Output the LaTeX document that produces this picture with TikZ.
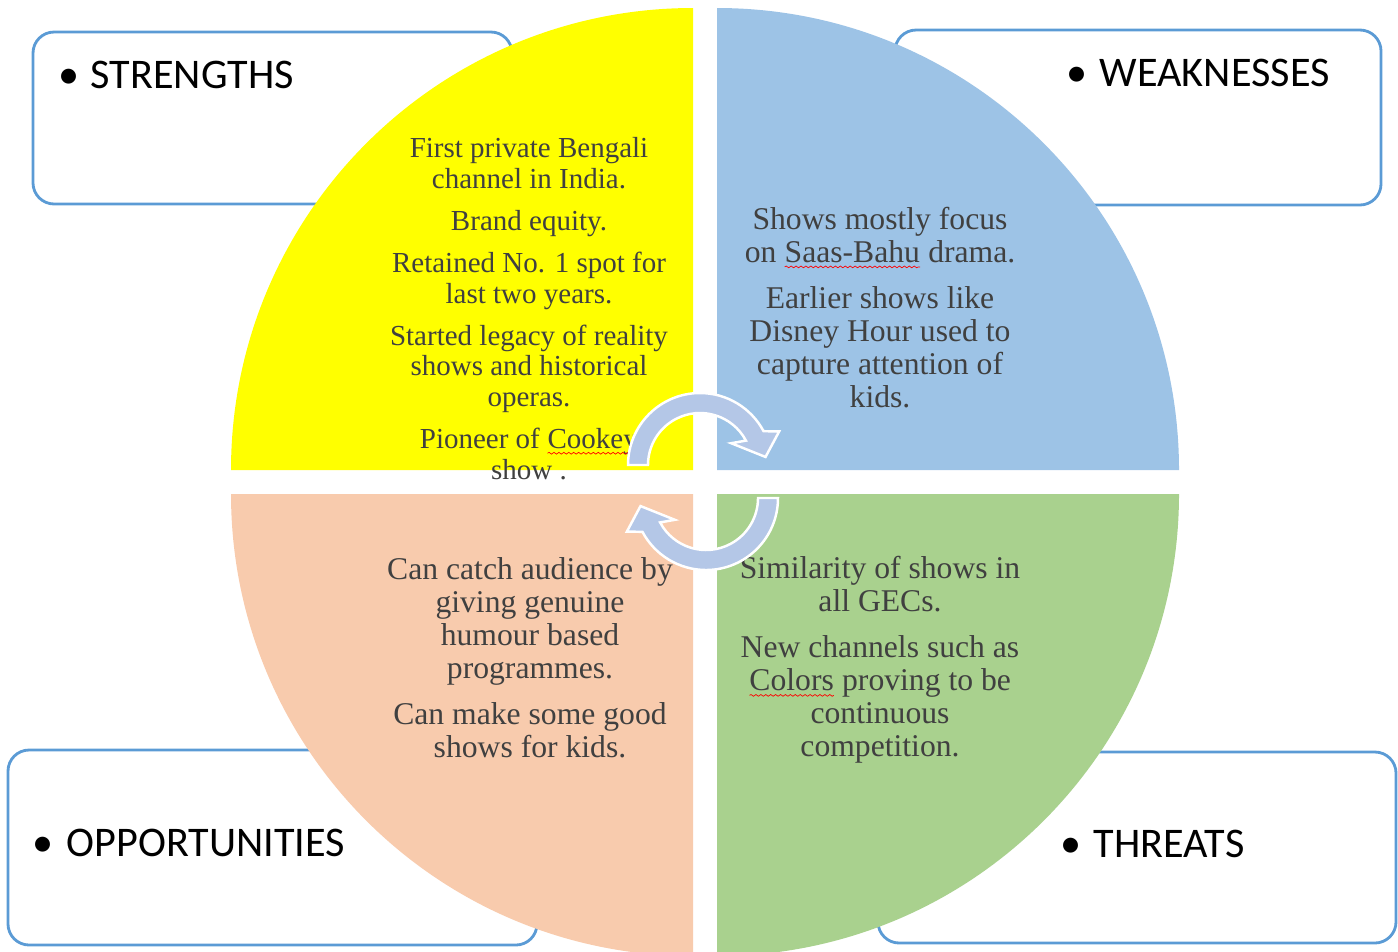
\documentclass[tikz,border=0pt]{standalone}
\usepackage{fontspec}
\setmainfont{Liberation Serif}
\newfontfamily\labelfont{Carlito}
\usepackage{tikz}
\usetikzlibrary{decorations.pathmorphing}
\definecolor{quadyellow}{HTML}{FFFF00}
\definecolor{quadblue}{HTML}{9DC3E6}
\definecolor{quadpeach}{HTML}{F8CBAD}
\definecolor{quadgreen}{HTML}{A9D18E}
\definecolor{cycleblue}{HTML}{B4C7E7}
\definecolor{frameblue}{HTML}{5B9BD5}
\definecolor{bodytext}{HTML}{404040}

% red spell-check squiggle under a word
\newcommand{\spellmark}[1]{\tikz[baseline=(sm.base)]{\node[inner sep=0pt,outer sep=0pt] (sm) {#1};
  \draw[red,line width=0.2pt,decorate,decoration={snake,amplitude=0.25pt,segment length=1.4pt}]
    ([yshift=-1.3pt]sm.base west) -- ([yshift=-1.3pt]sm.base east);}}

\begin{document}
\begin{tikzpicture}[x=0.01cm,y=-0.01cm,
  swotbox/.style={draw=frameblue,line width=0.8pt,fill=white,rounded corners=6pt},
  heading/.style={font=\labelfont\fontsize{12pt}{14pt}\selectfont,inner sep=0pt,anchor=base west},
  quadtext/.style={text=bodytext,align=center,inner sep=0pt,font=\fontsize{9pt}{9.4pt}\selectfont},
  cyclearrow/.style={fill=cycleblue,draw=white,line width=0.7pt}
]
  \clip (0,0) rectangle (1398,951);

  \draw[swotbox] (33,32) rectangle (512,204);
  \draw[swotbox] (895,30) rectangle (1381,205);
  \draw[swotbox] (8,750) rectangle (537,945);
  \draw[swotbox] (878,752) rectangle (1396,943);

  \node[heading] (lblS) at (58,88) {\makebox[0.32cm][l]{\textbullet}STRENGTHS};
  \node[heading] (lblW) at (1066,86) {\makebox[0.33cm][l]{\textbullet}WEAKNESSES};
  \node[heading] (lblO) at (32,856) {\makebox[0.34cm][l]{\textbullet}OPPORTUNITIES};
  \node[heading] (lblT) at (1060,857) {\makebox[0.33cm][l]{\textbullet}THREATS};

  \fill[quadyellow] (693,470) -- (231,470) arc[start angle=180,end angle=270,radius=462] -- cycle;
  \fill[quadblue] (717,470) -- (717,8) arc[start angle=270,end angle=360,radius=462] -- cycle;
  \fill[quadpeach] (693,494) -- (231,494) arc[start angle=180,end angle=90,radius=462] -- cycle;
  \fill[quadgreen] (717,494) -- (1179,494) arc[start angle=0,end angle=90,radius=462] -- cycle;

  \node[quadtext,font=\fontsize{8.25pt}{8.7pt}\selectfont] (txtS) at (529,308.5)
    {First private Bengali\\channel in India.\\[3.3pt]Brand equity.\\[3.3pt]Retained No. 1 spot for\\last two years.\\[3.3pt]Started legacy of reality\\shows and historical\\operas.\\[3.3pt]Pioneer of \spellmark{Cookey}\\show .};
  \node[quadtext] (txtW) at (880,307.5)
    {Shows mostly focus\\on \spellmark{Saas-Bahu} drama.\\[3.7pt]Earlier shows like\\Disney Hour used to\\capture attention of\\kids.};
  \node[quadtext] (txtO) at (530,657.5)
    {Can catch audience by\\giving genuine\\humour based\\programmes.\\[3.7pt]Can make some good\\shows for kids.};
  \node[quadtext] (txtT) at (880,660)
    {Similarity of shows in\\all GECs.\\[3.7pt]New channels such as\\\spellmark{Colors} proving to be\\continuous\\competition.};

  \coordinate (hubTop) at (700,465);
  \coordinate (hubBottom) at (706,498);
  \path[cyclearrow] ([shift={(180:72)}]hubTop) arc[start angle=180,end angle=332,radius=72]
    -- ([shift={(337:86)}]hubTop) -- ([shift={(353:66)}]hubTop) -- ([shift={(325:38)}]hubTop)
    -- ([shift={(332:52)}]hubTop) arc[start angle=332,end angle=180,radius=52] -- cycle;
  \path[cyclearrow] ([shift={(0:72)}]hubBottom) arc[start angle=0,end angle=152,radius=72]
    -- ([shift={(157:86)}]hubBottom) -- ([shift={(173:66)}]hubBottom) -- ([shift={(145:38)}]hubBottom)
    -- ([shift={(152:52)}]hubBottom) arc[start angle=152,end angle=0,radius=52] -- cycle;
\end{tikzpicture}
\end{document}
